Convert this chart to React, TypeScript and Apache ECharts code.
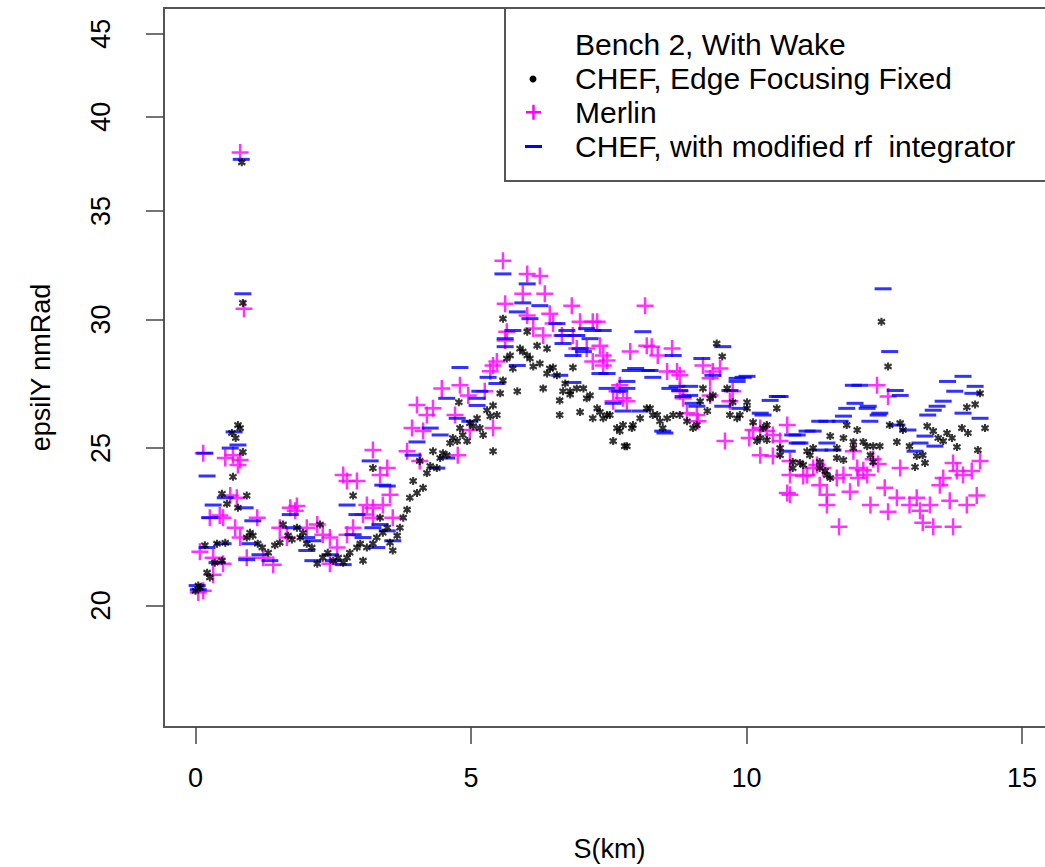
import React, { useEffect, useRef } from "react";
import * as echarts from "echarts";

const xTicks = [0, 5, 10, 15];
const yTicks = [20, 25, 30, 35, 40, 45];

const legendTitle = "Bench 2, With Wake";
const seriesNames = ["CHEF, Edge Focusing Fixed", "Merlin", "CHEF, with modified rf  integrator"];

// CHEF, Edge Focusing Fixed (black)
const chef: [number, number][] = [
  [0.0,20.42],[0.05,20.57],[0.08,20.51],[0.17,21.78],[0.21,20.95],[0.26,20.81],[0.35,21.25],[0.39,21.83],[0.48,21.31],[0.48,23.43],
  [0.54,21.86],[0.57,23.10],[0.66,25.54],[0.68,24.00],[0.73,25.36],[0.77,25.83],[0.77,22.97],[0.81,25.72],[0.84,37.50],[0.86,30.72],
  [0.86,24.86],[0.93,23.37],[0.93,22.02],[0.99,22.17],[1.04,22.08],[1.13,21.83],[1.21,21.71],[1.32,21.55],[1.44,21.78],[1.53,21.86],
  [1.59,22.43],[1.68,22.08],[1.75,21.96],[1.84,22.33],[1.90,22.02],[1.95,22.17],[2.02,21.83],[2.11,21.71],[2.21,21.22],[2.26,22.43],
  [2.31,21.40],[2.40,21.55],[2.50,21.31],[2.59,21.40],[2.68,21.25],[2.75,21.40],[2.80,21.55],[2.86,23.37],[2.93,21.71],[2.99,21.83],
  [3.04,21.31],[3.11,21.71],[3.22,21.83],[3.22,24.30],[3.29,22.02],[3.35,22.65],[3.40,22.17],[3.48,22.33],[3.53,21.86],[3.58,21.62],
  [3.66,22.08],[3.71,22.33],[3.77,22.65],[3.84,22.91],[3.89,23.30],[3.95,23.86],[4.02,23.46],[4.07,24.55],[4.13,23.63],[4.20,24.13],
  [4.26,24.37],[4.31,24.89],[4.38,24.30],[4.44,24.65],[4.49,24.82],[4.56,24.75],[4.62,25.18],[4.67,25.36],[4.75,25.25],[4.78,26.68],
  [4.80,25.72],[4.85,25.47],[4.93,25.25],[4.98,25.90],[5.04,25.79],[5.11,26.08],[5.16,25.72],[5.22,25.47],[5.29,26.38],[5.35,26.16],
  [5.40,26.56],[5.40,24.89],[5.47,26.20],[5.53,27.02],[5.58,30.04],[5.58,27.52],[5.65,28.39],[5.71,28.51],[5.76,27.99],[5.84,27.10],
  [5.89,28.79],[5.94,28.67],[6.02,28.51],[6.02,29.49],[6.07,28.39],[6.13,28.07],[6.20,28.91],[6.25,28.19],[6.31,27.21],[6.38,28.79],
  [6.38,27.79],[6.43,27.99],[6.49,28.03],[6.56,27.72],[6.61,26.75],[6.61,26.20],[6.67,27.10],[6.71,27.40],[6.80,26.98],[6.80,27.10],
  [6.85,28.03],[6.92,27.21],[6.98,26.31],[7.04,27.21],[7.10,26.83],[7.16,26.94],[7.21,26.08],[7.29,26.45],[7.34,26.31],[7.40,26.08],
  [7.47,26.20],[7.52,26.20],[7.58,25.25],[7.65,25.72],[7.70,25.61],[7.76,25.83],[7.79,25.07],[7.83,25.07],[7.92,25.72],[7.94,25.83],
  [8.07,26.08],[8.19,26.45],[8.25,26.45],[8.30,26.20],[8.38,26.20],[8.43,25.97],[8.48,25.72],[8.56,26.08],[8.67,26.20],[8.79,26.20],
  [8.92,25.97],[9.03,25.72],[9.10,25.83],[9.16,26.72],[9.21,27.21],[9.29,26.35],[9.34,26.83],[9.39,26.94],[9.46,29.00],[9.56,28.47],
  [9.65,27.21],[9.70,26.20],[9.75,26.68],[9.83,26.08],[9.88,26.20],[10.01,26.68],[10.01,26.45],[10.12,25.93],[10.19,25.25],[10.25,25.36],
  [10.30,25.72],[10.37,25.29],[10.37,25.83],[10.55,26.45],[10.61,25.00],[10.61,24.75],[10.84,24.51],[10.84,24.30],[10.97,24.48],[11.03,24.41],
  [11.10,24.89],[11.15,24.75],[11.21,25.00],[11.33,24.51],[11.33,24.30],[11.43,24.20],[11.46,24.06],[11.52,25.43],[11.52,23.96],[11.64,25.00],
  [11.64,24.65],[11.76,24.58],[11.76,25.36],[11.82,25.83],[11.94,25.22],[11.94,25.00],[12.01,25.65],[12.12,25.22],[12.19,25.07],[12.25,24.75],
  [12.30,25.07],[12.30,24.51],[12.42,25.07],[12.45,29.91],[12.57,28.07],[12.60,25.83],[12.73,25.22],[12.79,25.90],[12.84,25.65],[12.96,25.07],
  [13.06,24.34],[13.09,24.72],[13.20,24.75],[13.24,24.48],[13.28,25.79],[13.39,25.61],[13.48,25.36],[13.57,25.25],[13.64,25.54],[13.73,25.36],
  [13.82,25.04],[13.91,25.72],[14.00,26.49],[14.02,25.54],[14.15,26.60],[14.20,24.93],[14.24,27.02],[14.33,25.72]
];

// Merlin (magenta)
const merlin: [number, number][] = [
  [0.05,20.37],[0.08,21.58],[0.14,20.42],[0.14,24.82],[0.26,22.65],[0.32,21.40],[0.32,20.89],[0.44,22.72],[0.50,22.65],[0.50,21.22],
  [0.54,24.65],[0.63,23.37],[0.68,24.75],[0.72,22.33],[0.75,23.30],[0.77,24.41],[0.81,24.58],[0.81,22.02],[0.81,38.03],[0.88,30.47],
  [0.93,21.40],[1.12,22.65],[1.23,21.40],[1.41,21.19],[1.53,22.33],[1.66,22.02],[1.72,22.97],[1.81,22.87],[1.84,23.03],[2.02,22.33],
  [2.21,22.43],[2.31,22.11],[2.44,22.02],[2.44,21.22],[2.57,21.71],[2.68,24.06],[2.75,23.86],[2.75,22.11],[2.86,22.33],[2.93,23.86],
  [3.04,22.75],[3.11,23.06],[3.22,24.93],[3.22,22.97],[3.22,22.65],[3.35,24.06],[3.40,23.06],[3.48,24.30],[3.53,23.40],[3.58,22.65],
  [3.84,24.89],[3.93,25.72],[4.02,26.58],[4.07,24.55],[4.13,25.61],[4.20,26.20],[4.31,26.45],[4.47,27.21],[4.71,26.20],[4.76,24.75],
  [4.80,27.33],[4.95,26.94],[4.98,25.65],[5.25,27.10],[5.35,27.88],[5.40,25.72],[5.40,28.11],[5.47,28.27],[5.58,32.61],[5.62,30.68],
  [5.62,29.12],[5.65,29.49],[5.94,31.12],[6.02,32.01],[6.02,30.17],[6.13,29.62],[6.25,31.92],[6.31,29.33],[6.34,31.12],[6.43,30.25],
  [6.49,29.83],[6.65,29.33],[6.83,30.60],[6.85,29.33],[6.92,28.79],[6.98,29.91],[7.10,28.79],[7.21,29.91],[7.21,28.27],[7.29,29.91],
  [7.34,28.91],[7.40,28.51],[7.40,28.11],[7.47,28.31],[7.58,26.72],[7.65,27.10],[7.70,27.33],[7.76,26.83],[7.83,26.72],[7.89,28.67],
  [8.16,30.60],[8.19,28.91],[8.28,28.87],[8.39,28.51],[8.56,27.87],[8.65,28.79],[8.74,27.87],[8.79,27.72],[8.79,27.10],[8.85,26.83],
  [8.92,26.27],[9.10,26.20],[9.12,25.97],[9.21,28.11],[9.34,27.60],[9.34,26.94],[9.39,27.87],[9.52,27.99],[9.61,25.25],[9.70,26.72],
  [9.75,27.10],[10.05,25.36],[10.12,25.65],[10.25,25.72],[10.25,24.75],[10.37,25.61],[10.48,25.47],[10.48,24.72],[10.61,25.25],[10.74,25.83],
  [10.74,23.46],[10.79,24.55],[10.79,24.06],[10.79,23.40],[11.03,24.03],[11.10,24.06],[11.21,24.30],[11.28,24.41],[11.33,23.72],[11.39,24.30],
  [11.46,23.40],[11.46,23.06],[11.64,23.96],[11.68,22.36],[11.76,24.06],[11.88,23.50],[11.94,24.89],[12.01,24.30],[12.03,23.96],[12.12,24.23],
  [12.19,24.06],[12.25,23.06],[12.30,24.61],[12.37,27.33],[12.39,24.44],[12.51,23.63],[12.57,26.90],[12.57,22.84],[12.73,23.30],[12.79,24.30],
  [12.96,23.06],[13.09,23.30],[13.15,22.87],[13.20,22.49],[13.33,23.06],[13.39,22.36],[13.51,23.72],[13.57,23.96],[13.69,23.20],[13.75,24.48],
  [13.75,22.36],[13.82,24.20],[13.93,24.06],[14.00,23.06],[14.09,24.20],[14.18,23.37],[14.24,24.55]
];

// CHEF, with modified rf integrator (blue)
const chefRf: [number, number][] = [
  [0.03,20.57],[0.05,20.45],[0.17,24.82],[0.21,24.03],[0.21,21.71],[0.26,22.65],[0.32,23.06],[0.39,21.25],[0.50,21.83],[0.54,23.30],
  [0.63,25.00],[0.70,25.58],[0.77,25.11],[0.83,37.66],[0.86,31.12],[0.90,22.97],[0.93,21.34],[0.99,21.83],[1.04,22.55],[1.17,21.49],
  [1.35,21.31],[1.72,22.75],[1.77,22.33],[2.02,22.02],[2.13,21.92],[2.02,21.62],[2.13,21.31],[2.44,21.49],[2.50,21.31],[2.68,21.19],
  [2.75,23.06],[2.86,22.11],[2.93,22.75],[3.04,22.02],[3.17,24.55],[3.22,22.33],[3.29,21.71],[3.35,22.43],[3.40,23.72],[3.48,23.69],
  [3.48,22.23],[3.58,21.92],[3.95,24.75],[4.02,25.22],[4.26,25.72],[4.38,24.30],[4.44,25.47],[4.56,26.83],[4.56,24.65],[4.75,26.08],
  [4.80,28.03],[4.98,25.97],[5.11,26.83],[5.11,26.56],[5.16,27.10],[5.31,27.64],[5.47,27.40],[5.58,32.01],[5.62,29.20],[5.62,28.87],
  [5.76,29.54],[5.84,30.33],[5.84,28.11],[5.94,30.72],[6.02,31.56],[6.07,30.04],[6.25,30.60],[6.56,29.83],[6.61,27.72],[6.67,29.33],
  [6.67,29.00],[6.74,29.54],[6.85,28.51],[6.85,27.44],[6.92,29.33],[6.98,28.79],[7.04,28.67],[7.10,29.62],[7.16,29.20],[7.21,29.54],
  [7.34,27.79],[7.40,29.54],[7.47,27.79],[7.47,27.21],[7.58,26.64],[7.70,27.10],[7.76,26.35],[7.83,27.48],[7.83,27.21],[7.89,27.91],
  [7.99,27.99],[8.07,26.35],[8.12,29.49],[8.19,27.91],[8.25,27.91],[8.30,27.64],[8.48,25.61],[8.52,25.54],[8.61,27.21],[8.67,28.51],
  [8.74,27.29],[8.79,27.13],[8.85,26.90],[8.97,27.29],[8.97,26.94],[9.03,26.64],[9.10,26.53],[9.19,28.39],[9.39,27.72],[9.57,28.87],
  [9.57,26.53],[9.70,27.13],[9.83,27.60],[9.83,27.48],[9.88,26.45],[9.94,27.64],[10.01,27.68],[10.25,26.27],[10.30,26.20],[10.43,26.75],
  [10.56,26.90],[10.61,26.90],[10.74,24.89],[10.84,25.47],[10.92,25.47],[10.92,25.18],[10.97,25.18],[11.10,25.61],[11.21,25.61],[11.33,25.97],
  [11.33,24.93],[11.46,25.97],[11.46,25.18],[11.57,24.93],[11.70,25.97],[11.76,26.16],[11.82,26.45],[11.94,27.33],[11.97,26.64],[12.06,27.33],
  [12.19,26.45],[12.21,26.53],[12.24,25.97],[12.39,26.20],[12.42,26.27],[12.48,31.34],[12.60,28.67],[12.70,27.13],[12.73,25.83],[12.79,26.94],
  [12.93,25.65],[13.06,24.89],[13.15,25.18],[13.24,25.43],[13.29,26.20],[13.39,26.38],[13.42,25.07],[13.46,26.53],[13.57,26.72],[13.65,27.48],
  [13.78,27.10],[13.93,27.68],[13.93,26.27],[14.11,27.02],[14.15,27.29],[14.24,26.08]
];

const FONT = '"Liberation Sans", Arial, sans-serif';
const PLUS = "path://M0,7.25H17V9.75H0Z M7.25,0H9.75V17H7.25Z";
const STAR =
  "path://M2.6,0H4.4V7H2.6Z M0.7,0.6L7,4.6L6.3,6.4L0,2.4Z M0,4.6L6.3,0.6L7,2.4L0.7,6.4Z";

export default function App() {
  const ref = useRef<HTMLDivElement>(null);
  useEffect(() => {
    if (!ref.current) return;
    const chart = echarts.init(ref.current, undefined, { renderer: "svg" });
    const textStyle = { color: "#000", fontFamily: FONT, fontSize: 27 };
    chart.setOption({
      animation: false,
      backgroundColor: "#fff",
      grid: {
        left: 164, top: 8, width: 891, height: 722, show: true,
        borderColor: "#555", borderWidth: 2, backgroundColor: "transparent",
      },
      xAxis: {
        type: "value", min: -0.572, max: 15.6,
        splitLine: { show: false },
        axisLine: { show: false, onZero: false },
        axisTick: { show: true, length: 17, customValues: xTicks, lineStyle: { color: "#444", width: 1.5 } },
        axisLabel: { customValues: xTicks, margin: 37, ...textStyle },
        name: "S(km)", nameLocation: "middle", nameGap: 108,
        nameTextStyle: { ...textStyle },
      },
      yAxis: {
        type: "log", min: 16.83, max: 46.68,
        splitLine: { show: false },
        axisLine: { show: false, onZero: false },
        axisTick: { show: true, length: 18, customValues: yTicks, lineStyle: { color: "#444", width: 1.5 } },
        axisLabel: { customValues: yTicks, rotate: 90, margin: 50, ...textStyle },
        name: "epsilY nmRad", nameLocation: "middle", nameGap: 110,
        nameTextStyle: { ...textStyle },
      },
      series: [
        {
          name: seriesNames[1], type: "scatter", data: merlin,
          symbol: PLUS, symbolSize: 17, itemStyle: { color: "#ff00ff" },
        },
        {
          name: seriesNames[2], type: "scatter", data: chefRf,
          symbol: "rect", symbolSize: [17, 3], itemStyle: { color: "#0000ff" },
        },
        {
          name: seriesNames[0], type: "scatter", data: chef,
          symbol: STAR, symbolSize: 8, itemStyle: { color: "#000" },
        },
      ],
      graphic: [
        { type: "rect", z: 100, shape: { x: 505, y: 8, width: 600, height: 173 },
          style: { fill: "#fff", stroke: "#555", lineWidth: 2 } },
        { type: "text", z: 101, x: 575, y: 44,
          style: { text: legendTitle, fill: "#000", fontSize: 30, fontFamily: FONT, verticalAlign: "middle" } },
        { type: "text", z: 101, x: 575, y: 78,
          style: { text: seriesNames[0], fill: "#000", fontSize: 30, fontFamily: FONT, verticalAlign: "middle" } },
        { type: "text", z: 101, x: 575, y: 112,
          style: { text: seriesNames[1], fill: "#000", fontSize: 30, fontFamily: FONT, verticalAlign: "middle" } },
        { type: "text", z: 101, x: 575, y: 146,
          style: { text: seriesNames[2], fill: "#000", fontSize: 30, fontFamily: FONT, verticalAlign: "middle" } },
        { type: "circle", z: 101, shape: { cx: 533, cy: 79, r: 3.5 }, style: { fill: "#000" } },
        { type: "rect", z: 101, shape: { x: 526, y: 111, width: 15, height: 2.5 }, style: { fill: "#ff00ff" } },
        { type: "rect", z: 101, shape: { x: 532.25, y: 104.75, width: 2.5, height: 15 }, style: { fill: "#ff00ff" } },
        { type: "rect", z: 101, shape: { x: 525, y: 145, width: 17, height: 3 }, style: { fill: "#0000ff" } },
      ],
    });
    return () => chart.dispose();
  }, []);
  return (
    <div
      ref={ref}
      style={{ position: "fixed", left: 0, top: 0, width: 1075, height: 867, background: "#fff" }}
    />
  );
}
